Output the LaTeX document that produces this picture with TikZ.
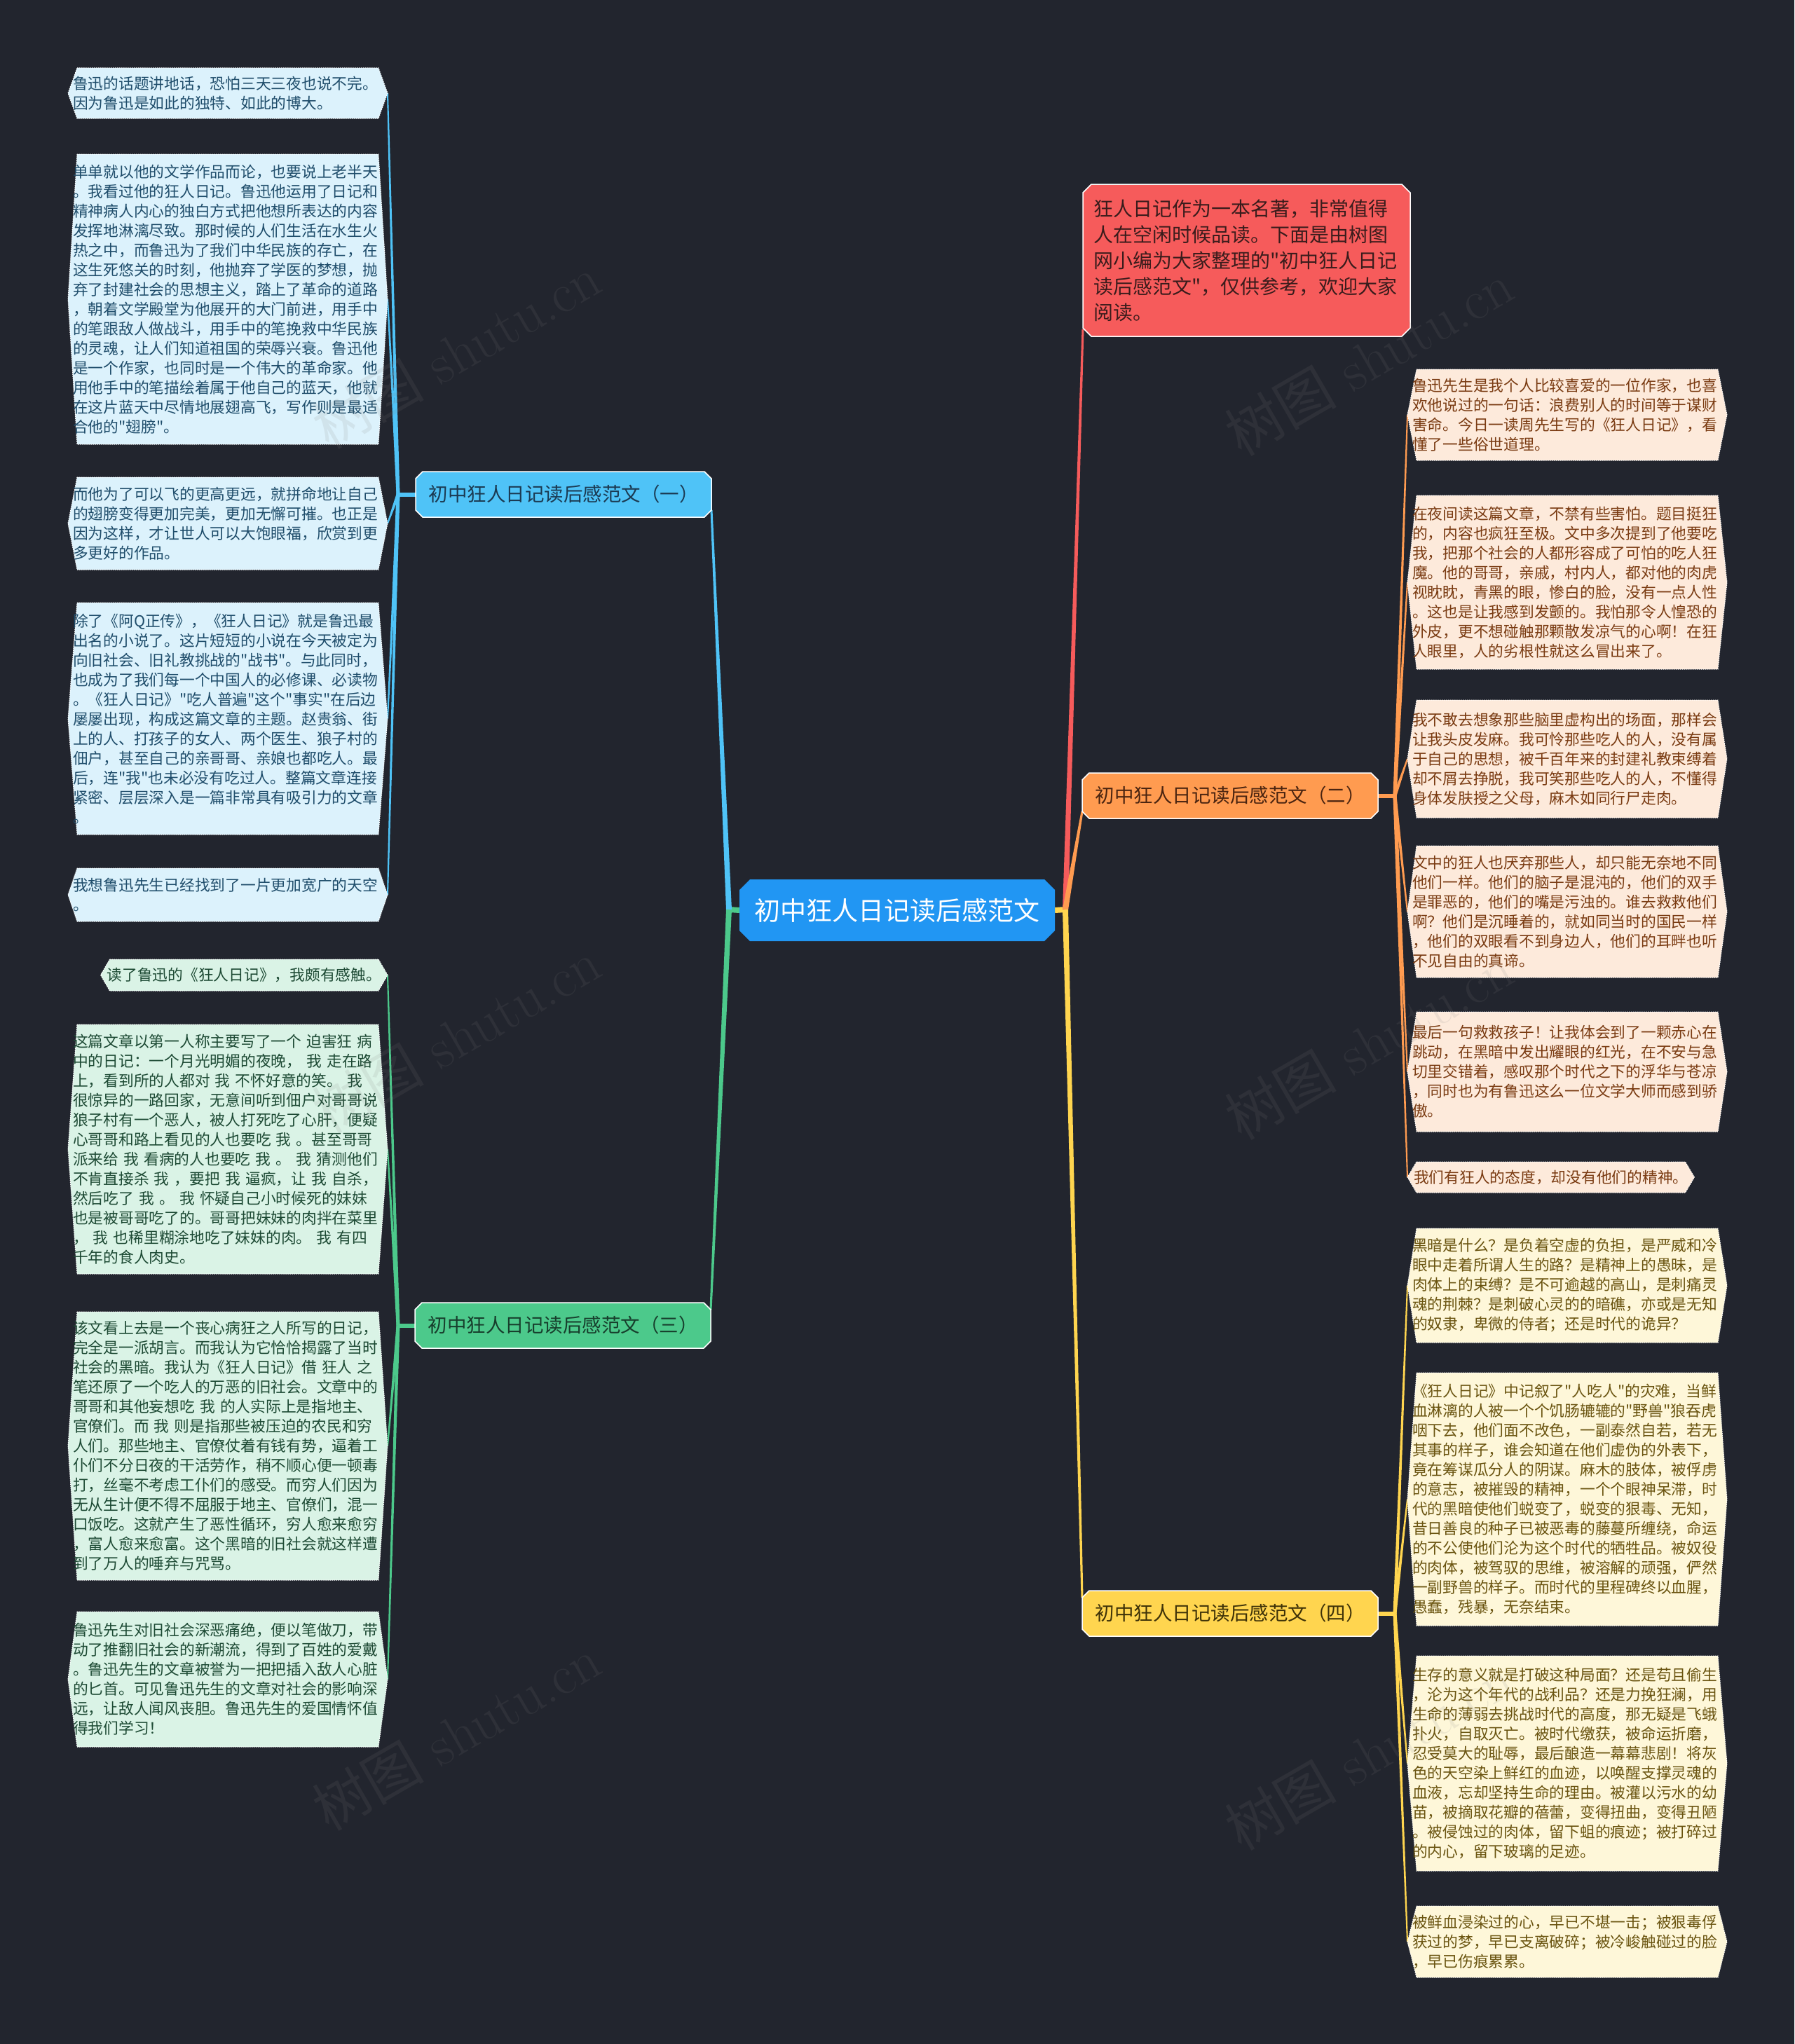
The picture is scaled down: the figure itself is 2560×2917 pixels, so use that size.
\documentclass[tikz,border=0pt]{standalone}
\usepackage{fontspec}
\newfontfamily\cjk{Noto Sans CJK SC}
\usetikzlibrary{calc}
\pgfdeclarelayer{bgl}
\pgfdeclarelayer{lines}
\pgfdeclarelayer{boxes}
\pgfdeclarelayer{wm}
\pgfsetlayers{bgl,lines,boxes,main,wm}

\definecolor{bgc}{HTML}{22252E}
\definecolor{rootc}{HTML}{2196F3}
\definecolor{bluec}{HTML}{4FC3F7}
\definecolor{greenc}{HTML}{4CC98B}
\definecolor{orangec}{HTML}{FF9B50}
\definecolor{yellowc}{HTML}{FFD54F}
\definecolor{redc}{HTML}{F65B5B}
\definecolor{lfB}{HTML}{DCF2FC}
\definecolor{lfG}{HTML}{DAF3E6}
\definecolor{lfO}{HTML}{FDEADB}
\definecolor{lfY}{HTML}{FEF7D9}
\definecolor{ltB}{HTML}{1F4D6B}
\definecolor{ltG}{HTML}{1D4A34}
\definecolor{ltO}{HTML}{7A3B12}
\definecolor{ltY}{HTML}{6A5410}
\definecolor{btB}{HTML}{1B3A52}
\definecolor{btG}{HTML}{173E2C}
\definecolor{btO}{HTML}{4A2410}
\definecolor{btY}{HTML}{3E3208}
\definecolor{introt}{HTML}{3A1C1C}

\newcommand\leaffont{\cjk\fontsize{21.75pt}{28pt}\selectfont}
\newcommand\introfont{\cjk\fontsize{28pt}{37pt}\selectfont}
\newcommand\branchfont{\cjk\fontsize{27.5pt}{32pt}\selectfont}
\newcommand\rootfont{\cjk\fontsize{37pt}{44pt}\selectfont}

\newcommand\hexbox[2]{%
  \begin{pgfonlayer}{boxes}
  \path[fill=#2, draw=white, line width=1pt, dash pattern=on 1.5pt off 1.5pt]
    ($(#1.north west)+(13,0)$) -- ($(#1.north east)+(-13,0)$) -- (#1.east)
    -- ($(#1.south east)+(-13,0)$) -- ($(#1.south west)+(13,0)$) -- (#1.west) -- cycle;
  \end{pgfonlayer}}

\newcommand\octbox[4]{%
  \begin{pgfonlayer}{boxes}
  \path[fill=#2, draw=#4, line width=1.5pt]
    ($(#1.north west)+(#3,0)$) -- ($(#1.north east)+(-#3,0)$) -- ($(#1.north east)+(0,#3)$)
    -- ($(#1.south east)+(0,-#3)$) -- ($(#1.south east)+(-#3,0)$) -- ($(#1.south west)+(#3,0)$)
    -- ($(#1.south west)+(0,-#3)$) -- ($(#1.north west)+(0,#3)$) -- cycle;
  \end{pgfonlayer}}

\newcommand\taper[5]{%
  \begin{pgfonlayer}{lines}
  \fill[#1] ($(#2)!#4!90:(#3)$) -- ($(#3)!#5!-90:(#2)$) -- ($(#3)!#5!90:(#2)$) -- ($(#2)!#4!-90:(#3)$) -- cycle;
  \end{pgfonlayer}}

\tikzset{
  leafbase/.style={rectangle, outer sep=0pt, inner xsep=7pt, inner ysep=0pt, text width=442pt, align=left, font=\leaffont, anchor=north west},
  leafB/.style={leafbase, text=ltB},
  leafG/.style={leafbase, text=ltG},
  leafO/.style={leafbase, text=ltO},
  leafY/.style={leafbase, text=ltY},
  oneline/.style={rectangle, outer sep=0pt, inner xsep=9pt, inner ysep=0pt, font=\leaffont},
  branchn/.style={rectangle, outer sep=0pt, inner sep=0pt, minimum width=422pt, minimum height=65pt, font=\branchfont},
  wmk/.style={rotate=30, text=gray, opacity=0.13, font=\fontsize{80pt}{80pt}\selectfont},
}

\begin{document}
\begin{tikzpicture}[x=1pt, y=-1pt]
\useasboundingbox (0,0) rectangle (2560,2917);
\begin{pgfonlayer}{bgl}
\fill[bgc] (0,0) rectangle (2560,2917);
\end{pgfonlayer}

% root
\node[rectangle, outer sep=0pt, inner sep=0pt, minimum width=450pt, minimum height=88pt, font=\rootfont, text=white] (root) at (1280,1299) {初中狂人日记读后感范文};
\octbox{root}{rootc}{15}{none}

% intro
\node[rectangle, outer sep=0pt, inner xsep=15pt, inner ysep=0pt, text width=437pt, minimum height=217pt, align=left, font=\introfont, text=introt, anchor=north west] (intro) at (1545,263) {狂人日记作为一本名著，非常值得\\人在空闲时候品读。下面是由树图\\网小编为大家整理的"初中狂人日记\\读后感范文"，仅供参考，欢迎大家\\阅读。};
\octbox{intro}{redc}{12}{white}

% branches
\node[branchn, text=btB] (b1) at (804,705.5) {初中狂人日记读后感范文（一）};
\octbox{b1}{bluec}{10}{white}
\node[branchn, text=btG] (b3) at (803,1891.5) {初中狂人日记读后感范文（三）};
\octbox{b3}{greenc}{10}{white}
\node[branchn, text=btO] (b2) at (1755,1135.5) {初中狂人日记读后感范文（二）};
\octbox{b2}{orangec}{10}{white}
\node[branchn, text=btY] (b4) at (1755,2302.5) {初中狂人日记读后感范文（四）};
\octbox{b4}{yellowc}{10}{white}

% blue leaves
\node[leafB, minimum height=72pt] (l1) at (97,97) {鲁迅的话题讲地话，恐怕三天三夜也说不完。\\因为鲁迅是如此的独特、如此的博大。};
\hexbox{l1}{lfB}
\node[leafB, minimum height=414pt] (l2) at (97,220) {单单就以他的文学作品而论，也要说上老半天\\。我看过他的狂人日记。鲁迅他运用了日记和\\精神病人内心的独白方式把他想所表达的内容\\发挥地淋漓尽致。那时候的人们生活在水生火\\热之中，而鲁迅为了我们中华民族的存亡，在\\这生死悠关的时刻，他抛弃了学医的梦想，抛\\弃了封建社会的思想主义，踏上了革命的道路\\，朝着文学殿堂为他展开的大门前进，用手中\\的笔跟敌人做战斗，用手中的笔挽救中华民族\\的灵魂，让人们知道祖国的荣辱兴衰。鲁迅他\\是一个作家，也同时是一个伟大的革命家。他\\用他手中的笔描绘着属于他自己的蓝天，他就\\在这片蓝天中尽情地展翅高飞，写作则是最适\\合他的"翅膀"。};
\hexbox{l2}{lfB}
\node[leafB, minimum height=132pt] (l3) at (97,681) {而他为了可以飞的更高更远，就拼命地让自己\\的翅膀变得更加完美，更加无懈可摧。也正是\\因为这样，才让世人可以大饱眼福，欣赏到更\\多更好的作品。};
\hexbox{l3}{lfB}
\node[leafB, minimum height=331pt] (l4) at (97,860) {除了《阿Q正传》，《狂人日记》就是鲁迅最\\出名的小说了。这片短短的小说在今天被定为\\向旧社会、旧礼教挑战的"战书"。与此同时，\\也成为了我们每一个中国人的必修课、必读物\\。《狂人日记》"吃人普遍"这个"事实"在后边\\屡屡出现，构成这篇文章的主题。赵贵翁、街\\上的人、打孩子的女人、两个医生、狼子村的\\佃户，甚至自己的亲哥哥、亲娘也都吃人。最\\后，连"我"也未必没有吃过人。整篇文章连接\\紧密、层层深入是一篇非常具有吸引力的文章\\。};
\hexbox{l4}{lfB}
\node[leafB, minimum height=76pt] (l5) at (97,1239) {我想鲁迅先生已经找到了一片更加宽广的天空\\。};
\hexbox{l5}{lfB}

% green leaves
\node[oneline, text=ltG, minimum height=45pt, anchor=north east] (g1) at (553,1369) {读了鲁迅的《狂人日记》，我颇有感触。};
\hexbox{g1}{lfG}
\node[leafG, minimum height=356pt] (g2) at (97,1462) {这篇文章以第一人称主要写了一个 迫害狂 病\\中的日记：一个月光明媚的夜晚， 我 走在路\\上，看到所的人都对 我 不怀好意的笑。 我\\很惊异的一路回家，无意间听到佃户对哥哥说\\狼子村有一个恶人，被人打死吃了心肝，便疑\\心哥哥和路上看见的人也要吃 我 。甚至哥哥\\派来给 我 看病的人也要吃 我 。 我 猜测他们\\不肯直接杀 我 ，要把 我 逼疯，让 我 自杀，\\然后吃了 我 。 我 怀疑自己小时候死的妹妹\\也是被哥哥吃了的。哥哥把妹妹的肉拌在菜里\\， 我 也稀里糊涂地吃了妹妹的肉。 我 有四\\千年的食人肉史。};
\hexbox{g2}{lfG}
\node[leafG, minimum height=383pt] (g3) at (97,1872) {该文看上去是一个丧心病狂之人所写的日记，\\完全是一派胡言。而我认为它恰恰揭露了当时\\社会的黑暗。我认为《狂人日记》借 狂人 之\\笔还原了一个吃人的万恶的旧社会。文章中的\\哥哥和其他妄想吃 我 的人实际上是指地主、\\官僚们。而 我 则是指那些被压迫的农民和穷\\人们。那些地主、官僚仗着有钱有势，逼着工\\仆们不分日夜的干活劳作，稍不顺心便一顿毒\\打，丝毫不考虑工仆们的感受。而穷人们因为\\无从生计便不得不屈服于地主、官僚们，混一\\口饭吃。这就产生了恶性循环，穷人愈来愈穷\\，富人愈来愈富。这个黑暗的旧社会就这样遭\\到了万人的唾弃与咒骂。};
\hexbox{g3}{lfG}
\node[leafG, minimum height=193pt] (g4) at (97,2300) {鲁迅先生对旧社会深恶痛绝，便以笔做刀，带\\动了推翻旧社会的新潮流，得到了百姓的爱戴\\。鲁迅先生的文章被誉为一把把插入敌人心脏\\的匕首。可见鲁迅先生的文章对社会的影响深\\远，让敌人闻风丧胆。鲁迅先生的爱国情怀值\\得我们学习！};
\hexbox{g4}{lfG}

% orange leaves
\node[leafO, minimum height=130pt] (o1) at (2008,527) {鲁迅先生是我个人比较喜爱的一位作家，也喜\\欢他说过的一句话：浪费别人的时间等于谋财\\害命。今日一读周先生写的《狂人日记》，看\\懂了一些俗世道理。};
\hexbox{o1}{lfO}
\node[leafO, minimum height=248pt] (o2) at (2008,707) {在夜间读这篇文章，不禁有些害怕。题目挺狂\\的，内容也疯狂至极。文中多次提到了他要吃\\我，把那个社会的人都形容成了可怕的吃人狂\\魔。他的哥哥，亲戚，村内人，都对他的肉虎\\视眈眈，青黑的眼，惨白的脸，没有一点人性\\。这也是让我感到发颤的。我怕那令人惶恐的\\外皮，更不想碰触那颗散发凉气的心啊！在狂\\人眼里，人的劣根性就这么冒出来了。};
\hexbox{o2}{lfO}
\node[leafO, minimum height=168pt] (o3) at (2008,999) {我不敢去想象那些脑里虚构出的场面，那样会\\让我头皮发麻。我可怜那些吃人的人，没有属\\于自己的思想，被千百年来的封建礼教束缚着\\却不屑去挣脱，我可笑那些吃人的人，不懂得\\身体发肤授之父母，麻木如同行尸走肉。};
\hexbox{o3}{lfO}
\node[leafO, minimum height=188pt] (o4) at (2008,1207) {文中的狂人也厌弃那些人，却只能无奈地不同\\他们一样。他们的脑子是混沌的，他们的双手\\是罪恶的，他们的嘴是污浊的。谁去救救他们\\啊？他们是沉睡着的，就如同当时的国民一样\\，他们的双眼看不到身边人，他们的耳畔也听\\不见自由的真谛。};
\hexbox{o4}{lfO}
\node[leafO, minimum height=171pt] (o5) at (2008,1444) {最后一句救救孩子！让我体会到了一颗赤心在\\跳动，在黑暗中发出耀眼的红光，在不安与急\\切里交错着，感叹那个时代之下的浮华与苍凉\\，同时也为有鲁迅这么一位文学大师而感到骄\\傲。};
\hexbox{o5}{lfO}
\node[oneline, text=ltO, minimum height=44pt, anchor=north west] (o6) at (2008,1658) {我们有狂人的态度，却没有他们的精神。};
\hexbox{o6}{lfO}

% yellow leaves
\node[leafY, minimum height=163pt] (y1) at (2008,1753) {黑暗是什么？是负着空虚的负担，是严威和冷\\眼中走着所谓人生的路？是精神上的愚昧，是\\肉体上的束缚？是不可逾越的高山，是刺痛灵\\魂的荆棘？是刺破心灵的的暗礁，亦或是无知\\的奴隶，卑微的侍者；还是时代的诡异？};
\hexbox{y1}{lfY}
\node[leafY, minimum height=361pt] (y2) at (2008,1959) {《狂人日记》中记叙了"人吃人"的灾难，当鲜\\血淋漓的人被一个个饥肠辘辘的"野兽"狼吞虎\\咽下去，他们面不改色，一副泰然自若，若无\\其事的样子，谁会知道在他们虚伪的外表下，\\竟在筹谋瓜分人的阴谋。麻木的肢体，被俘虏\\的意志，被摧毁的精神，一个个眼神呆滞，时\\代的黑暗使他们蜕变了，蜕变的狠毒、无知，\\昔日善良的种子已被恶毒的藤蔓所缠绕，命运\\的不公使他们沦为这个时代的牺牲品。被奴役\\的肉体，被驾驭的思维，被溶解的顽强，俨然\\一副野兽的样子。而时代的里程碑终以血腥，\\愚蠢，残暴，无奈结束。};
\hexbox{y2}{lfY}
\node[leafY, minimum height=307pt] (y3) at (2008,2363) {生存的意义就是打破这种局面？还是苟且偷生\\，沦为这个年代的战利品？还是力挽狂澜，用\\生命的薄弱去挑战时代的高度，那无疑是飞蛾\\扑火，自取灭亡。被时代缴获，被命运折磨，\\忍受莫大的耻辱，最后酿造一幕幕悲剧！将灰\\色的天空染上鲜红的血迹，以唤醒支撑灵魂的\\血液，忘却坚持生命的理由。被灌以污水的幼\\苗，被摘取花瓣的蓓蕾，变得扭曲，变得丑陋\\。被侵蚀过的肉体，留下蛆的痕迹；被打碎过\\的内心，留下玻璃的足迹。};
\hexbox{y3}{lfY}
\node[leafY, minimum height=102pt] (y4) at (2008,2720) {被鲜血浸染过的心，早已不堪一击；被狠毒俘\\获过的梦，早已支离破碎；被冷峻触碰过的脸\\，早已伤痕累累。};
\hexbox{y4}{lfY}

% junctions and attach points
\coordinate (jl) at (1040,1298);
\coordinate (jr) at (1520,1298);
\coordinate (j1) at (568,705.5);
\coordinate (j3) at (568,1891.5);
\coordinate (j2) at (1990,1135.5);
\coordinate (j4) at (1990,2302.5);
\coordinate (a1) at ($(b1.south east)+(0,-10)$);
\coordinate (a3) at ($(b3.north east)+(0,10)$);
\coordinate (a2) at ($(b2.south west)+(0,-10)$);
\coordinate (a4) at ($(b4.north west)+(0,10)$);
\coordinate (ai) at ($(intro.south west)+(0,-10)$);

% root connectors
\begin{pgfonlayer}{lines}
\draw[greenc, line width=8pt] (jl) -- (root.west);
\draw[yellowc, line width=8pt] (jr) -- (root.east);
\draw[bluec, line width=6pt] (j1) -- (b1.west);
\draw[greenc, line width=6pt] (j3) -- (b3.west);
\draw[orangec, line width=6pt] (j2) -- (b2.east);
\draw[yellowc, line width=6pt] (j4) -- (b4.east);
\end{pgfonlayer}
\taper{bluec}{jl}{a1}{4pt}{1.5pt}
\taper{greenc}{jl}{a3}{4pt}{1.5pt}
\taper{redc}{jr}{ai}{4pt}{1.5pt}
\taper{orangec}{jr}{a2}{4pt}{1.5pt}
\taper{yellowc}{jr}{a4}{4pt}{1.5pt}

% leaf connectors
\taper{bluec}{j1}{l1.east}{2.5pt}{1pt}
\taper{bluec}{j1}{l2.east}{2.5pt}{1pt}
\taper{bluec}{j1}{l3.east}{2.5pt}{1pt}
\taper{bluec}{j1}{l4.east}{2.5pt}{1pt}
\taper{bluec}{j1}{l5.east}{2.5pt}{1pt}
\taper{greenc}{j3}{g1.east}{2.5pt}{1pt}
\taper{greenc}{j3}{g2.east}{2.5pt}{1pt}
\taper{greenc}{j3}{g3.east}{2.5pt}{1pt}
\taper{greenc}{j3}{g4.east}{2.5pt}{1pt}
\taper{orangec}{j2}{o1.west}{2.5pt}{1pt}
\taper{orangec}{j2}{o2.west}{2.5pt}{1pt}
\taper{orangec}{j2}{o3.west}{2.5pt}{1pt}
\taper{orangec}{j2}{o4.west}{2.5pt}{1pt}
\taper{orangec}{j2}{o5.west}{2.5pt}{1pt}
\taper{orangec}{j2}{o6.west}{2.5pt}{1pt}
\taper{yellowc}{j4}{y1.west}{2.5pt}{1pt}
\taper{yellowc}{j4}{y2.west}{2.5pt}{1pt}
\taper{yellowc}{j4}{y3.west}{2.5pt}{1pt}
\taper{yellowc}{j4}{y4.west}{2.5pt}{1pt}

% watermarks
\begin{pgfonlayer}{wm}
\node[wmk] (w1) at (651,502) {{\cjk 树图} shutu.cn};
\node[wmk] (w2) at (1953,512) {{\cjk 树图} shutu.cn};
\node[wmk] (w3) at (651,1479) {{\cjk 树图} shutu.cn};
\node[wmk] (w4) at (1953,1488) {{\cjk 树图} shutu.cn};
\node[wmk] (w5) at (651,2474) {{\cjk 树图} shutu.cn};
\node[wmk] (w6) at (1953,2502) {{\cjk 树图} shutu.cn};
\end{pgfonlayer}
\end{tikzpicture}
\end{document}
